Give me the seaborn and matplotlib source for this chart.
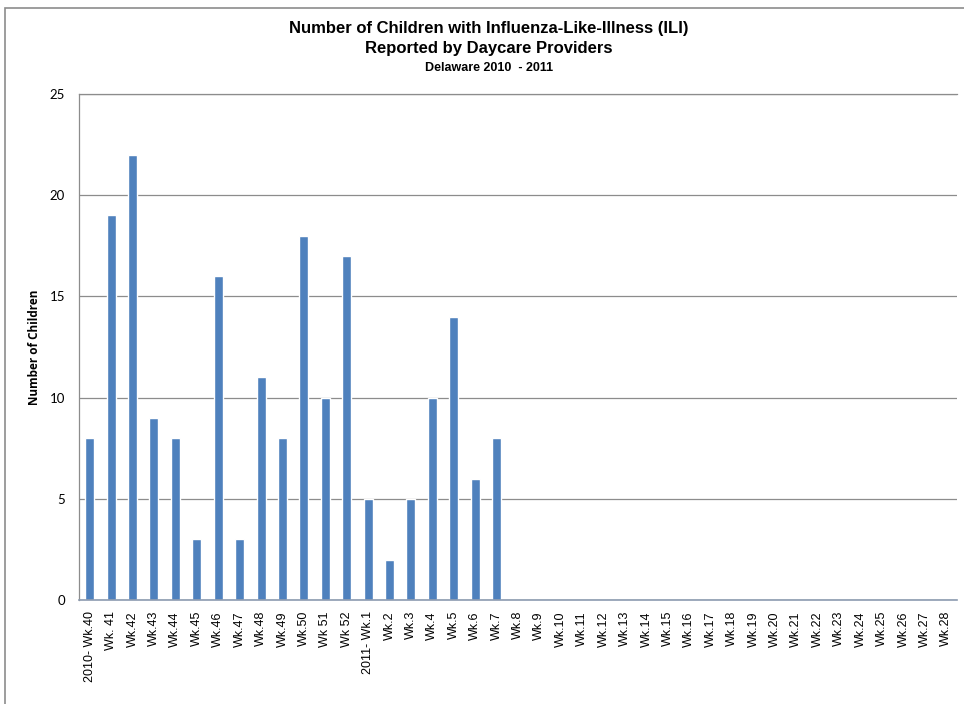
import numpy as np
import pandas as pd
import matplotlib
matplotlib.use("Agg")
import matplotlib.pyplot as plt
import seaborn as sns
from matplotlib.patches import Rectangle

weeks = (["2010- Wk.40", "Wk. 41", "Wk.42", "Wk.43", "Wk.44", "Wk.45", "Wk.46", "Wk.47",
          "Wk.48", "Wk.49", "Wk.50", "Wk 51", "Wk 52", "2011- Wk.1"]
         + [f"Wk.{i}" for i in range(2, 29)])
counts = [8, 19, 22, 9, 8, 3, 16, 3, 11, 8, 18, 10, 17, 5, 2, 5, 10, 14, 6, 8]
counts = counts + [np.nan] * (len(weeks) - len(counts))

df = pd.DataFrame({"week": weeks, "children": counts})

sns.set_theme(style="white")
plt.rcParams['font.family'] = ['Liberation Sans', 'DejaVu Sans']
plt.rcParams['text.color'] = 'black'
plt.rcParams['xtick.color'] = 'black'
plt.rcParams['ytick.color'] = 'black'
plt.rcParams['axes.labelcolor'] = 'black'

fig = plt.figure(figsize=(9.64, 7.04), dpi=100)
ax = fig.add_axes([79/964, 1 - 600/704, (957 - 79)/964, (600 - 94)/704])

sns.barplot(data=df, x="week", y="children", color="#4F81BD", saturation=1,
            width=0.42, ax=ax, order=weeks)

ax.set_ylim(0, 25)
ax.set_xlim(-0.5, len(weeks) - 0.5)
ax.set_yticks([0, 5, 10, 15, 20, 25])
ax.yaxis.grid(True, color="#8C8C8C", linewidth=0.9)
ax.set_axisbelow(True)
ax.spines["right"].set_visible(False)
for s in ["top", "left"]:
    ax.spines[s].set_color("#8C8C8C")
    ax.spines[s].set_linewidth(0.9)
ax.spines["bottom"].set_color("#8C9BB0")
ax.spines["bottom"].set_linewidth(1.2)

ax.set_xticks(range(len(weeks)))
ax.set_xticklabels(weeks, rotation=90, fontsize=9, family=['Liberation Sans', 'DejaVu Sans'])
ax.tick_params(axis="x", length=0, pad=8)
ax.tick_params(axis="y", length=0, pad=10)
for lbl in ax.get_yticklabels():
    lbl.set_fontsize(9.5)
    lbl.set_family(['Lato', 'DejaVu Sans'])

ax.set_xlabel("")
ax.set_ylabel("Number of Children", fontsize=8.5, fontweight="bold",
              family=['Open Sans', 'DejaVu Sans'], labelpad=6)

fig.text(0.5 + 7/964, 1 - 29/704, "Number of Children with Influenza-Like-Illness (ILI)",
         ha="center", va="center", fontsize=12, fontweight="bold")
fig.text(0.5 + 7/964, 1 - 48/704, "Reported by Daycare Providers",
         ha="center", va="center", fontsize=12, fontweight="bold")
fig.text(0.5 + 7/964, 1 - 68/704, "Delaware 2010  - 2011",
         ha="center", va="center", fontsize=9, fontweight="bold")

fig.patches.append(Rectangle((5/964, -0.01), 1.0, 1 - 8/704 + 0.01, transform=fig.transFigure,
                             fill=False, edgecolor="#8C8C8C", linewidth=1.2))

fig.savefig("out.png", dpi=100)
